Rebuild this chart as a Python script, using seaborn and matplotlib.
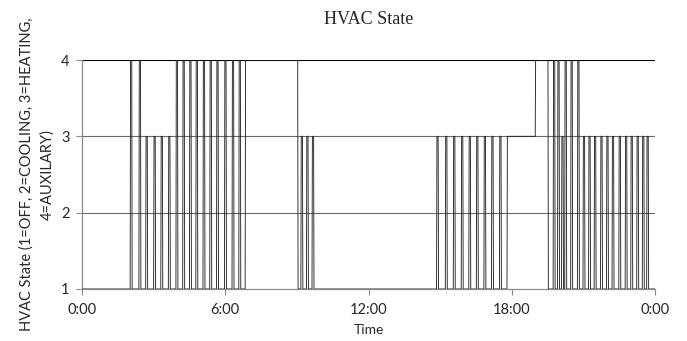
# plot.py
# HVAC state over one day, drawn from per-minute samples like the logger output.

import numpy as np
import pandas as pd
import matplotlib
matplotlib.use("Agg")
import matplotlib.pyplot as plt
import seaborn as sns

# Short on-cycles: start time and the state reached
pulse_time = ["2:02", "2:24", "2:41", "3:01", "3:19", "3:38", "3:57", "4:14",
              "4:31", "4:47", "5:05", "5:22", "5:39", "5:59", "6:18", "6:35",
              "9:11", "9:25", "9:39",
              "14:52", "15:14", "15:34", "15:54", "16:13", "16:32", "16:51",
              "17:10", "17:30",
              "19:45", "19:56", "20:06", "20:14", "20:29", "20:46",
              "21:00", "21:14", "21:28", "21:44", "21:59", "22:13", "22:30",
              "22:46", "23:00", "23:15", "23:29", "23:40"]
pulse_state = [4, 4, 3, 3, 3, 3, 4, 4,
               4, 4, 4, 4, 4, 4, 4, 4,
               3, 3, 3,
               3, 3, 3, 3, 3, 3, 3,
               3, 3,
               4, 4, 3, 4, 4, 4,
               3, 3, 3, 3, 3, 3, 3,
               3, 3, 3, 3, 3]
pulse_minutes = 4

# Longer periods where one state is held
hold_start = ["6:51", "17:49", "19:00"]
hold_end = ["9:03", "19:00", "19:32"]
hold_state = [4, 3, 4]

x_ticks = [0, 6, 12, 18, 24]
x_labels = ["0:00", "6:00", "12:00", "18:00", "0:00"]
y_ticks = [1, 2, 3, 4]


def to_min(s):
    h, m = s.split(":")
    return int(h) * 60 + int(m)


def main():
    # Build the per-minute state series (1 = OFF by default)
    state = np.ones(24 * 60 + 1)
    for a, b, s in zip(hold_start, hold_end, hold_state):
        state[to_min(a):to_min(b)] = s
    for t, s in zip(pulse_time, pulse_state):
        m = to_min(t)
        state[m:m + pulse_minutes] = s
    df = pd.DataFrame({"hour": np.arange(len(state)) / 60.0, "state": state})

    sns.set_style("white")
    plt.rcParams["font.family"] = ["Lato", "DejaVu Sans"]

    fig = plt.figure(figsize=(6.87, 3.41), dpi=100)
    ax = fig.add_axes([82 / 687, 1 - 289 / 341, (655 - 82) / 687, (289 - 60) / 341])

    sns.lineplot(data=df, x="hour", y="state", ax=ax, color="#262626",
                 linewidth=0.65, zorder=3)

    ax.set_xlim(0, 24)
    ax.set_ylim(1, 4)
    ax.set_xticks(x_ticks)
    ax.set_xticklabels(x_labels, fontsize=10.5)
    ax.set_yticks(y_ticks)
    ax.set_yticklabels([str(v) for v in y_ticks], fontsize=10.5)

    # Gridlines in the Excel look
    for v in y_ticks[1:]:
        ax.axhline(v, color="#000000" if v == 4 else "#6a6a6a", linewidth=0.8, zorder=1)

    for side in ["top", "right"]:
        ax.spines[side].set_visible(False)
    for side in ["left", "bottom"]:
        ax.spines[side].set_color("#8a8a8a")
        ax.spines[side].set_linewidth(0.9)
    ax.tick_params(axis="both", direction="out", length=4, width=0.8,
                   color="#8a8a8a", bottom=True, left=True)
    ax.tick_params(axis="x", pad=6)
    ax.tick_params(axis="y", pad=5)

    ax.set_xlabel("Time", fontsize=10, labelpad=5)
    ax.set_ylabel("HVAC State (1=OFF, 2=COOLING, 3=HEATING,\n4=AUXILARY)",
                  fontsize=10.5, labelpad=5, linespacing=1.55)
    ax.set_title("HVAC State", fontsize=13, family="Liberation Serif", pad=26)

    fig.savefig("out.png", dpi=100)
    plt.close(fig)


if __name__ == "__main__":
    main()
